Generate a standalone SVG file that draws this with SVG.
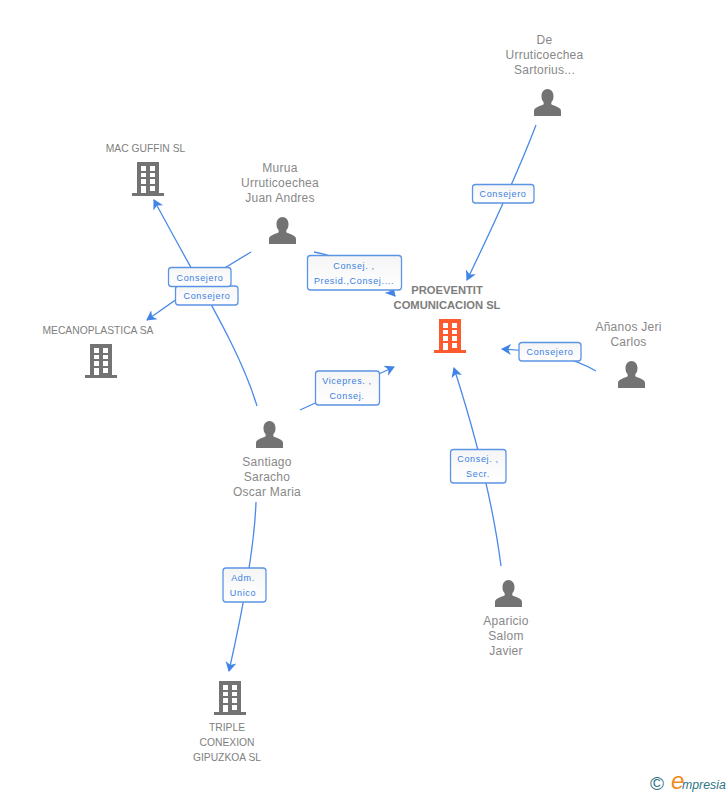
<svg xmlns="http://www.w3.org/2000/svg" width="728" height="795" viewBox="0 0 728 795">
<style>
text{font-family:"Liberation Sans",Arial,sans-serif}
.n{font-size:12px;fill:#888;text-anchor:middle;letter-spacing:.25px}
.c{font-size:10.3px;fill:#808080;text-anchor:middle}
.m{font-size:11.2px;font-weight:bold;fill:#7d7d7d;text-anchor:middle}
.l{font-size:9px;fill:#3b7fe0;text-anchor:middle;letter-spacing:.65px}
.b{fill:url(#lg);stroke:#5b94e4;stroke-width:1.3}
.e{fill:none;stroke:#4a8ae8;stroke-width:1.3}
.g{fill:#737373}
</style>
<defs>
<linearGradient id="lg" x1="0" y1="0" x2="0" y2="1"><stop offset="0" stop-color="#f5f5f5"/><stop offset="1" stop-color="#fff"/></linearGradient>
<marker id="a" markerUnits="userSpaceOnUse" markerWidth="12" markerHeight="12" refX="9" refY="5.500" orient="auto" viewBox="0 0 12 11"><path d="M0 0L10 5.500L0 11L2.800 5.500Z" fill="#3f84e6"/></marker>
<path id="bld" fill-rule="evenodd" d="M5 0H27V31H32V34H0V31H5ZM9 4V9H14V4ZM18 4V9H23V4ZM9 11V15H14V11ZM18 11V15H23V11ZM9 17V22H14V17ZM18 17V22H23V17ZM9 24V31H14V24ZM18 24V29H23V24Z"/>
<path id="per" d="M0 27V22C0 18.500 5 17.500 9.500 15.500C9.800 14.500 9.800 13.800 9.500 13C8 11.500 7.500 9.500 7.500 7C7.500 3 10 0 13.500 0C17 0 19.500 3 19.500 7C19.500 9.500 19 11.500 17.500 13C17.200 13.800 17.200 14.500 17.500 15.500C22 17.500 27 18.500 27 22V27Z"/>
</defs>
<g id="connectors">
<path class="e" marker-end="url(#a)" d="M536 125Q514 183 467 280"/>
<path class="e" marker-end="url(#a)" d="M596 371Q565 352 502 349"/>
<path class="e" marker-end="url(#a)" d="M501 566Q490 480 454 368"/>
<path class="e" marker-end="url(#a)" d="M251 252Q200 282 147 320"/>
<path class="e" marker-end="url(#a)" d="M314 252Q365 262 395 296"/>
<path class="e" marker-end="url(#a)" d="M257 406C240 350 205 295 154 200"/>
<path class="e" marker-end="url(#a)" d="M300 410L394 367"/>
<path class="e" marker-end="url(#a)" d="M256 502Q254 560 229 671"/>
</g>
<g id="label-consejero-1"><rect class="b" x="472.500" y="184.500" width="61.500" height="18.500" rx="3"/><text class="l" x="503" y="197">Consejero</text></g>
<g id="label-consejero-2"><rect class="b" x="519" y="342.500" width="62" height="18.500" rx="3"/><text class="l" x="550" y="355">Consejero</text></g>
<g id="label-secr"><rect class="b" x="450.500" y="449.500" width="55.500" height="33.500" rx="3"/><text class="l" x="478" y="462">Consej. ,</text><text class="l" x="478" y="477">Secr.</text></g>
<g id="label-presid"><rect class="b" x="307.500" y="255.500" width="94" height="34.500" rx="3"/><text class="l" x="354" y="269">Consej. ,</text><text class="l" x="354" y="284">Presid.,Consej....</text></g>
<g id="label-consejero-4"><rect class="b" x="175.500" y="286" width="62.500" height="19" rx="3"/><text class="l" x="207" y="299">Consejero</text></g>
<g id="label-consejero-3"><rect class="b" x="168.500" y="267.500" width="62.500" height="19" rx="3"/><text class="l" x="200" y="281">Consejero</text></g>
<g id="label-vicepres"><rect class="b" x="315.500" y="371" width="64" height="34" rx="3"/><text class="l" x="347" y="384">Vicepres. ,</text><text class="l" x="347" y="399">Consej.</text></g>
<g id="label-adm"><rect class="b" x="223" y="568" width="43" height="34" rx="3"/><text class="l" x="243" y="581">Adm.</text><text class="l" x="243" y="596">Unico</text></g>
<g id="node-proeventit"><text class="m" x="447" y="294">PROEVENTIT</text><text class="m" x="447" y="309">COMUNICACION SL</text><use href="#bld" x="434" y="319" fill="#ff5a2d"/></g>
<g id="node-mac-guffin"><text class="c" x="145.500" y="152">MAC GUFFIN SL</text><use href="#bld" class="g" x="132" y="162"/></g>
<g id="node-mecanoplastica"><text class="c" x="98" y="334">MECANOPLASTICA SA</text><use href="#bld" class="g" x="85" y="344"/></g>
<g id="node-triple"><text class="c" x="227" y="731">TRIPLE</text><text class="c" x="227" y="746">CONEXION</text><text class="c" x="227" y="761">GIPUZKOA SL</text><use href="#bld" class="g" x="214" y="681"/></g>
<g id="node-de"><text class="n" x="544.500" y="44">De</text><text class="n" x="544.500" y="59">Urruticoechea</text><text class="n" x="544.500" y="74">Sartorius...</text><use href="#per" class="g" x="534" y="89"/></g>
<g id="node-murua"><text class="n" x="280" y="172">Murua</text><text class="n" x="280" y="187">Urruticoechea</text><text class="n" x="280" y="202">Juan Andres</text><use href="#per" class="g" x="269" y="217"/></g>
<g id="node-ananos"><text class="n" x="628.500" y="331">Añanos Jeri</text><text class="n" x="628.500" y="346">Carlos</text><use href="#per" class="g" x="618" y="361"/></g>
<g id="node-santiago"><text class="n" x="267" y="466">Santiago</text><text class="n" x="267" y="481">Saracho</text><text class="n" x="267" y="496">Oscar Maria</text><use href="#per" class="g" x="256" y="421"/></g>
<g id="node-aparicio"><text class="n" x="506" y="625">Aparicio</text><text class="n" x="506" y="640">Salom</text><text class="n" x="506" y="655">Javier</text><use href="#per" class="g" x="495" y="580"/></g>
<g id="logo"><text x="650" y="790" font-size="19" fill="#2f7387">©</text><text x="671" y="789" font-size="24" font-style="italic" fill="#f08a1d" font-family="Liberation Serif">e</text><text x="682" y="789" font-size="12.300" font-style="italic" fill="#2f7387">mpresia</text></g>
</svg>
